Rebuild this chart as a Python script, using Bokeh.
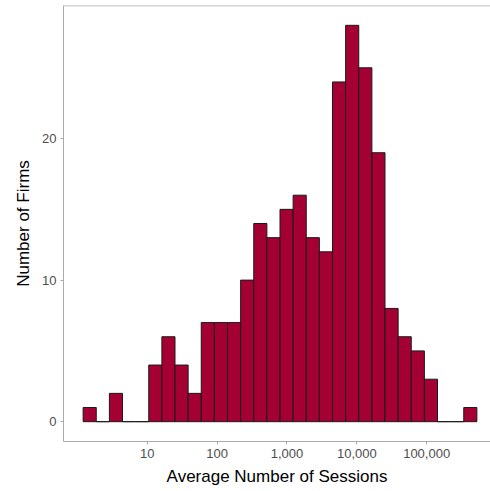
import numpy as np
from bokeh.plotting import figure
from bokeh.models import Range1d, FixedTicker, NumeralTickFormatter, Span
from bokeh.embed import file_html
from bokeh.resources import INLINE

# Histogram data (log10 of average number of sessions), 30 bins
log_min = 0.175
log_max = 5.625
n_bins = 30
counts = [1, 0, 2, 0, 0, 4, 6, 4, 2, 7,
          7, 7, 10, 14, 13, 15, 16, 13, 12, 24,
          28, 25, 19, 8, 6, 5, 3, 0, 0, 1]
x_ticks = [10, 100, 1000, 10000, 100000]
y_ticks = [0, 10, 20]

width = (log_max - log_min) / (n_bins - 1)
centers = log_min + width * np.arange(n_bins)
left = 10 ** (centers - width / 2)
right = 10 ** (centers + width / 2)

p = figure(frame_width=427, frame_height=436,
           x_axis_type="log",
           x_range=Range1d(10 ** -0.2, 10 ** 5.914),
           y_range=Range1d(-1.4, 29.4),
           output_backend="svg", toolbar_location=None,
           min_border_left=63, min_border_top=5,
           min_border_right=0, min_border_bottom=50)

p.quad(left=left, right=right, bottom=0, top=counts,
       fill_color="#A50034", line_color="#1a1a1a", line_width=1)

grey = "#ababab"
p.outline_line_color = None
p.xgrid.grid_line_color = None
p.ygrid.grid_line_color = None
p.background_fill_color = "white"
p.border_fill_color = "white"

p.add_layout(Span(location=29.4, dimension="width", line_color=grey, line_width=1.5))

p.xaxis.ticker = FixedTicker(ticks=x_ticks)
p.xaxis.formatter = NumeralTickFormatter(format="0,0")
p.yaxis.ticker = FixedTicker(ticks=y_ticks)

for ax in (p.xaxis[0], p.yaxis[0]):
    ax.axis_line_color = grey
    ax.axis_line_width = 1
    ax.major_tick_line_color = grey
    ax.major_tick_out = 3
    ax.major_tick_in = 0
    ax.minor_tick_line_color = None
    ax.major_label_text_color = "#4d4d4d"
    ax.major_label_text_font = "Liberation Sans"
    ax.major_label_text_font_size = "13px"
    ax.axis_label_text_font = "Liberation Sans"
    ax.axis_label_text_font_size = "17px"
    ax.axis_label_text_font_style = "normal"
    ax.axis_label_text_color = "black"
    ax.major_label_standoff = 4
    ax.axis_label_standoff = 6

p.xaxis.axis_label = "Average Number of Sessions"
p.yaxis.axis_label = "Number of Firms"

open("out.html", "w").write(file_html(p, INLINE))
